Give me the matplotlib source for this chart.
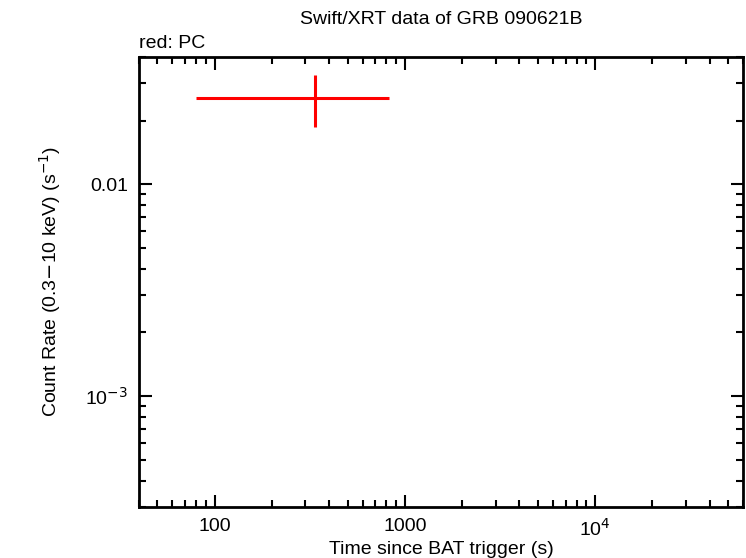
import matplotlib
matplotlib.use("Agg")
import matplotlib.pyplot as plt
from matplotlib.ticker import LogLocator, FixedLocator, NullFormatter
import numpy as np

plt.rcParams['font.family'] = ['Liberation Sans', 'DejaVu Sans']

# data (PC mode)
pc_time = [336.0]
pc_time_lo = [79.4]
pc_time_hi = [824.0]
pc_rate = [0.0257]
pc_rate_lo = [0.0186]
pc_rate_hi = [0.0327]

xtick_vals = [100, 1000, 10000]
xtick_labels = ['100', '1000', r'10$^{4}$']
ytick_vals = [1e-3, 1e-2]
ytick_labels = [r'10$^{-3}$', '0.01']

fig = plt.figure(figsize=(7.46, 5.58), dpi=100)
ax = fig.add_axes([0.1863, 0.0914, 0.8097, 0.8066])

x = np.array(pc_time)
y = np.array(pc_rate)
xerr = [x - np.array(pc_time_lo), np.array(pc_time_hi) - x]
yerr = [y - np.array(pc_rate_lo), np.array(pc_rate_hi) - y]
ax.errorbar(x, y, xerr=xerr, yerr=yerr, fmt='none', ecolor='red', elinewidth=2.2, capsize=0)

ax.set_xscale('log')
ax.set_yscale('log')
ax.set_xlim(40, 6e4)
ax.set_ylim(3e-4, 0.04)

ax.xaxis.set_major_locator(FixedLocator(xtick_vals))
ax.set_xticklabels(xtick_labels)
ax.yaxis.set_major_locator(FixedLocator(ytick_vals))
ax.set_yticklabels(ytick_labels)
ax.xaxis.set_minor_locator(LogLocator(base=10, subs=np.arange(2, 10)))
ax.yaxis.set_minor_locator(LogLocator(base=10, subs=np.arange(2, 10)))
ax.xaxis.set_minor_formatter(NullFormatter())
ax.yaxis.set_minor_formatter(NullFormatter())

ax.tick_params(which='both', direction='in', top=True, right=True, labelsize=14, width=1.5)
ax.tick_params(which='major', length=9, pad=8)
ax.tick_params(which='minor', length=5)
for s in ax.spines.values():
    s.set_linewidth(2)

ax.set_xlabel('Time since BAT trigger (s)', fontsize=14, labelpad=1)
ax.set_ylabel(r'Count Rate (0.3$-$10 keV) (s$^{-1}$)', fontsize=14, labelpad=16)
ax.set_title('Swift/XRT data of GRB 090621B', fontsize=14, pad=24)
ax.text(0.0, 1.01, 'red: PC', transform=ax.transAxes, fontsize=14, ha='left', va='bottom')

fig.savefig('out.png', dpi=100)
